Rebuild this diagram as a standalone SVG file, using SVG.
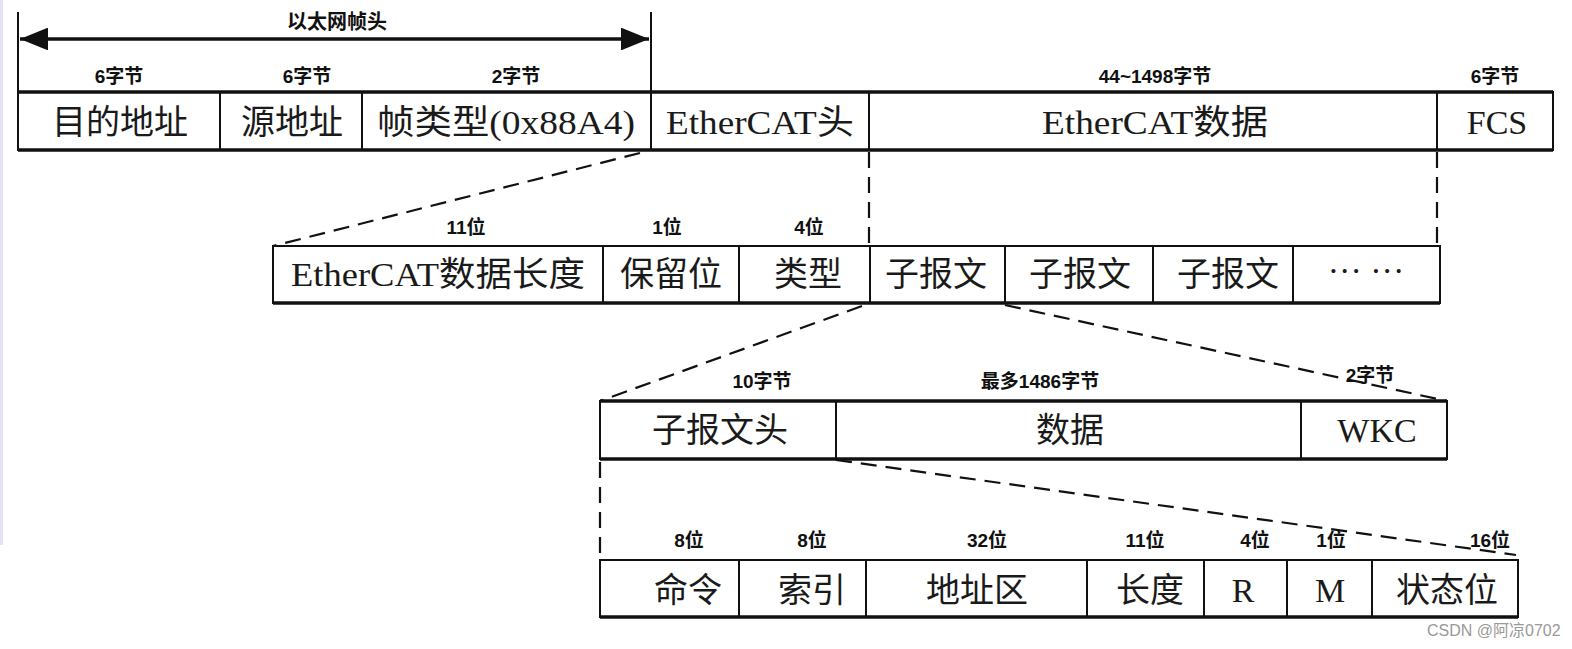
<svg xmlns="http://www.w3.org/2000/svg" width="1572" height="649" viewBox="0 0 1572 649">
<style>
.box{fill:#fff;stroke:#111;stroke-width:2}
.bot{stroke:#111;stroke-width:3.5;fill:none}
.div{stroke:#111;stroke-width:2}
.dash{stroke:#111;stroke-width:2.2;stroke-dasharray:16 9;fill:none}
.t{font-family:"Liberation Serif","Noto Sans CJK SC",serif;font-size:34px;fill:#1a1a1a;text-anchor:middle}
.s{font-family:"Liberation Sans","Noto Sans CJK SC",sans-serif;font-size:19px;font-weight:bold;fill:#111;text-anchor:middle}
.wm{font-family:"Liberation Sans","Noto Sans CJK SC",sans-serif;font-size:16px;fill:#999}
</style>
<defs>
<marker id="ah" viewBox="0 0 10 10" refX="10" refY="5" markerWidth="8" markerHeight="6.5" markerUnits="strokeWidth" orient="auto-start-reverse" preserveAspectRatio="none">
<path d="M0,0 L10,5 L0,10 z" fill="#111"/>
</marker>
</defs>
<rect x="0" y="0" width="1572" height="649" fill="#fff"/>
<rect x="0" y="0" width="3" height="545" fill="#e4e4f6"/>

<g id="connectors">
<line x1="18" y1="12" x2="18" y2="150" class="div"/>
<line x1="651" y1="12" x2="651" y2="150" class="div"/>
<line x1="20" y1="39" x2="649" y2="39" stroke="#111" stroke-width="3.5" marker-start="url(#ah)" marker-end="url(#ah)"/>
<path class="dash" d="M640,153 L273,246"/>
<path class="dash" d="M869,152 L869,246"/>
<path class="dash" d="M1437,152 L1437,246"/>
<path class="dash" d="M862,306 L600,401"/>
<path class="dash" d="M1005,305 L1447,401"/>
<path class="dash" d="M600,462 L600,553"/>
<path class="dash" d="M836,460 L1516,555"/>
</g>

<g id="ethhead-label">
<text class="s" x="337" y="29" style="font-size:20px">以太网帧头</text>
</g>

<g id="row1">
<rect class="box" x="18" y="92" width="1535" height="58"/>
<line class="bot" x1="18" y1="92" x2="1553" y2="92"/>
<line class="bot" x1="18" y1="150" x2="1553" y2="150"/>
<line class="div" x1="220" y1="92" x2="220" y2="150"/>
<line class="div" x1="362" y1="92" x2="362" y2="150"/>
<line class="div" x1="651" y1="92" x2="651" y2="150"/>
<line class="div" x1="869" y1="92" x2="869" y2="150"/>
<line class="div" x1="1437" y1="92" x2="1437" y2="150"/>
<text class="s" x="119" y="83">6字节</text>
<text class="s" x="307" y="83">6字节</text>
<text class="s" x="516" y="83">2字节</text>
<text class="s" x="1155" y="83">44~1498字节</text>
<text class="s" x="1495" y="83">6字节</text>
<text class="t" x="120" y="134">目的地址</text>
<text class="t" x="292" y="134">源地址</text>
<text class="t" x="506" y="134" textLength="258" lengthAdjust="spacingAndGlyphs">帧类型(0x88A4)</text>
<text class="t" x="760" y="134" textLength="188" lengthAdjust="spacingAndGlyphs">EtherCAT头</text>
<text class="t" x="1155" y="134" textLength="226" lengthAdjust="spacingAndGlyphs">EtherCAT数据</text>
<text class="t" x="1497" y="134">FCS</text>
</g>

<g id="row2">
<rect class="box" x="273" y="246" width="1167" height="57"/>
<line class="bot" x1="273" y1="303" x2="1440" y2="303"/>
<line class="div" x1="603" y1="246" x2="603" y2="303"/>
<line class="div" x1="739" y1="246" x2="739" y2="303"/>
<line class="div" x1="870" y1="246" x2="870" y2="303"/>
<line class="div" x1="1005" y1="246" x2="1005" y2="303"/>
<line class="div" x1="1153" y1="246" x2="1153" y2="303"/>
<line class="div" x1="1293" y1="246" x2="1293" y2="303"/>
<text class="s" x="466" y="234">11位</text>
<text class="s" x="667" y="234">1位</text>
<text class="s" x="809" y="234">4位</text>
<text class="t" x="438" y="286" textLength="294" lengthAdjust="spacingAndGlyphs">EtherCAT数据长度</text>
<text class="t" x="671" y="286">保留位</text>
<text class="t" x="808" y="286">类型</text>
<text class="t" x="936" y="286">子报文</text>
<text class="t" x="1080" y="286">子报文</text>
<text class="t" x="1228" y="286">子报文</text>
<text class="t" x="1366" y="282">··· ···</text>
</g>

<g id="row3">
<rect class="box" x="600" y="401" width="847" height="58"/>
<line class="bot" x1="600" y1="401" x2="1447" y2="401"/>
<line class="bot" x1="600" y1="459" x2="1447" y2="459"/>
<line class="div" x1="836" y1="401" x2="836" y2="459"/>
<line class="div" x1="1301" y1="401" x2="1301" y2="459"/>
<text class="s" x="762" y="388">10字节</text>
<text class="s" x="1040" y="388">最多1486字节</text>
<text class="s" x="1370" y="382">2字节</text>
<text class="t" x="720" y="442">子报文头</text>
<text class="t" x="1070" y="442">数据</text>
<text class="t" x="1377" y="442">WKC</text>
</g>

<g id="row4">
<rect class="box" x="600" y="560" width="918" height="57"/>
<line class="bot" x1="600" y1="617" x2="1518" y2="617"/>
<line class="div" x1="739" y1="560" x2="739" y2="617"/>
<line class="div" x1="866" y1="560" x2="866" y2="617"/>
<line class="div" x1="1087" y1="560" x2="1087" y2="617"/>
<line class="div" x1="1204" y1="560" x2="1204" y2="617"/>
<line class="div" x1="1287" y1="560" x2="1287" y2="617"/>
<line class="div" x1="1372" y1="560" x2="1372" y2="617"/>
<text class="s" x="689" y="547">8位</text>
<text class="s" x="812" y="547">8位</text>
<text class="s" x="987" y="547">32位</text>
<text class="s" x="1145" y="547">11位</text>
<text class="s" x="1255" y="547">4位</text>
<text class="s" x="1331" y="547">1位</text>
<text class="s" x="1490" y="547">16位</text>
<text class="t" x="688" y="602">命令</text>
<text class="t" x="812" y="602">索引</text>
<text class="t" x="977" y="602">地址区</text>
<text class="t" x="1150" y="602">长度</text>
<text class="t" x="1243" y="602">R</text>
<text class="t" x="1330" y="602">M</text>
<text class="t" x="1447" y="602">状态位</text>
</g>

<g id="watermark">
<text class="wm" x="1427" y="636">CSDN @阿凉0702</text>
</g>
</svg>
